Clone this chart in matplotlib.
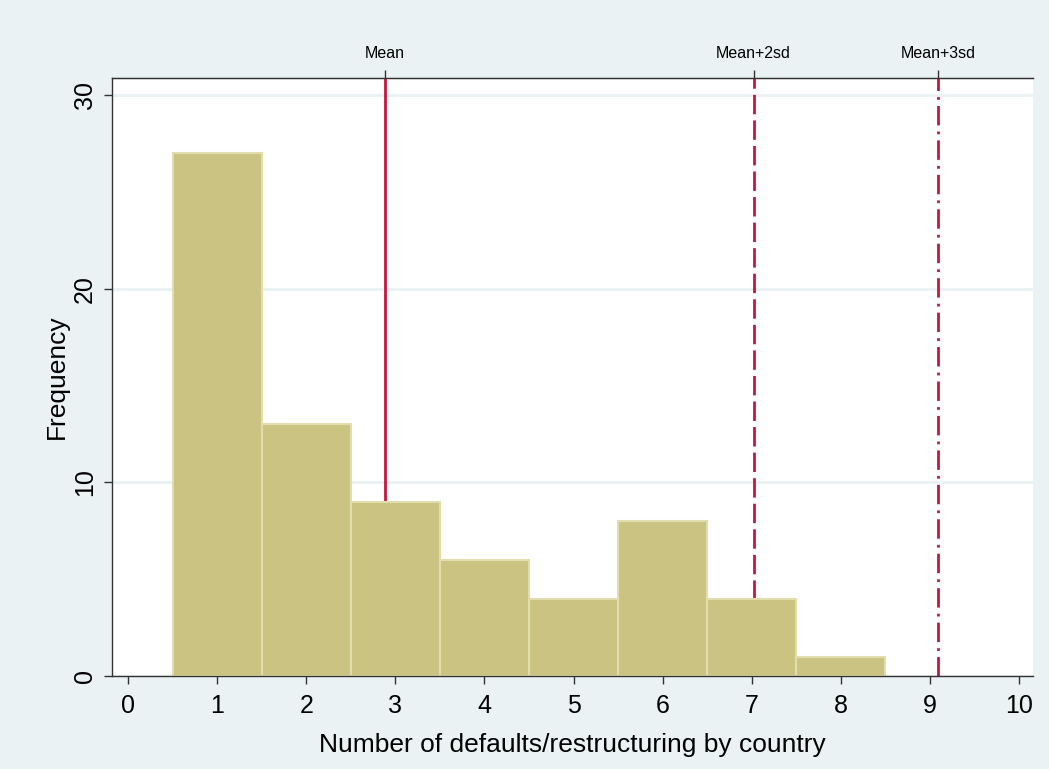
import matplotlib
matplotlib.use("Agg")
import matplotlib.pyplot as plt
from matplotlib import font_manager
import numpy as np

# Data
bin_centers = [1, 2, 3, 4, 5, 6, 7, 8]
counts = [27, 13, 9, 6, 4, 8, 4, 1]
ref_values = [2.885, 7.02, 9.09]
ref_labels = ["Mean", "Mean+2sd", "Mean+3sd"]
ref_styles = ["-", (0, (7, 2.2)), (0, (7, 2.2, 1, 2.2))]
xticks = list(range(0, 11))
yticks = [0, 10, 20, 30]

plt.rcParams['font.family'] = ['Liberation Sans', 'DejaVu Sans']
names = {f.name for f in font_manager.fontManager.ttflist}
narrow = 'Liberation Sans Narrow' if 'Liberation Sans Narrow' in names else 'Liberation Sans'

fig = plt.figure(figsize=(10.49, 7.69), dpi=100)
fig.patch.set_facecolor('#EAF2F3')
ax = fig.add_axes([112/1049, 1-676/769, (1033-112)/1049, (676-78)/769])
ax.set_facecolor('white')

ax.set_xlim(-0.18, 10.157)
ax.set_ylim(0, 30.87)

for y in yticks:
    ax.axhline(y, color='#EAF2F3', lw=2.2, zorder=0)

red = '#C8163F'
for v, ls in zip(ref_values, ref_styles):
    ax.axvline(v, color=red, lw=2.0, linestyle=ls, zorder=1)

ax.bar(bin_centers, counts, width=1.0, color='#CBC382', edgecolor='#E2DDAE',
       linewidth=1.5, zorder=2)

ax.spines['right'].set_visible(False)
for s in ['left', 'bottom', 'top']:
    ax.spines[s].set_color('#333333')
    ax.spines[s].set_linewidth(1.0)

ax.set_xticks(xticks)
ax.set_yticks(yticks)
ax.tick_params(axis='x', labelsize=18, length=6, width=1, color='#333333', pad=7)
ax.tick_params(axis='y', labelsize=18, length=6, width=1, color='#333333', pad=5)
for lab in ax.get_yticklabels():
    lab.set_rotation(90)
    lab.set_va('center')

ax.set_xlabel("Number of defaults/restructuring by country", fontsize=19, labelpad=11)
ax.set_ylabel("Frequency", fontsize=19, labelpad=3)

sec = ax.secondary_xaxis('top')
sec.set_xticks(ref_values)
sec.set_xticklabels(ref_labels, family=[narrow, 'DejaVu Sans'])
sec.tick_params(axis='x', labelsize=11.5, length=6, width=1, color='#333333', pad=6)
sec.spines['top'].set_color('#333333')

fig.savefig("out.png", dpi=100, facecolor=fig.get_facecolor())
